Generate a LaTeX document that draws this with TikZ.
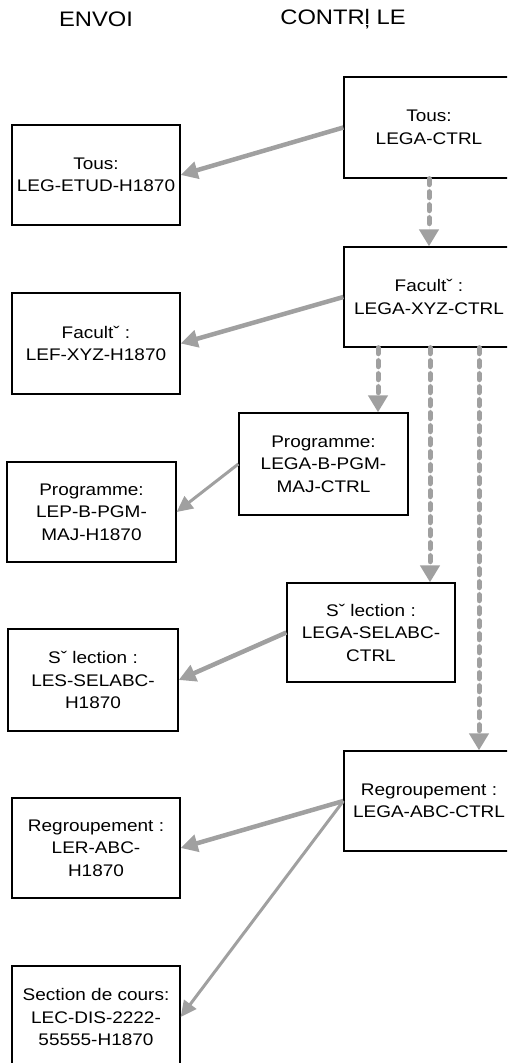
\documentclass[tikz,border=0pt]{standalone}
\usepackage{fontspec}
\setmainfont{Liberation Sans}[FakeStretch=1.13]
\usetikzlibrary{arrows.meta}
\definecolor{arrowgray}{RGB}{160,160,160}
\tikzset{
  box/.style={draw=black, line width=1.3pt, rectangle, inner sep=0pt, align=center,
    minimum width=168pt, minimum height=100pt,
    font=\fontsize{16.8}{22.5}\selectfont},
  header/.style={inner sep=0pt, font=\fontsize{21}{24}\selectfont},
  sendthick/.style={draw=arrowgray, line width=4.5pt,
    -{Triangle[length=17pt,width=17pt]}, fill=arrowgray},
  sendthin/.style={draw=arrowgray, line width=3pt,
    -{Triangle[length=16pt,width=15pt]}, fill=arrowgray},
  ctrlflow/.style={draw=arrowgray, line width=5pt, line cap=round,
    dash pattern=on 6pt off 7pt,
    -{Triangle[length=17pt,width=19pt]}, fill=arrowgray}
}
\begin{document}
\begin{tikzpicture}[x=1pt,y=-1pt]
\path[use as bounding box] (0,0) rectangle (507,1063);
\clip (0,0) rectangle (507,1063);

\node[header] (hEnvoi) at (96,19) {ENVOI};
\node[header] (hCtrl) at (343,19) {CONTRļ LE};

\node[box, minimum width=170pt, minimum height=101pt] (ctrlTous) at (429,127.5) {Tous:\\LEGA-CTRL};
\node[box, minimum height=100pt] (envTous) at (96,175) {Tous:\\LEG-ETUD-H1870};

\node[box, minimum width=170pt] (ctrlFac) at (429,297) {Facultˇ :\\LEGA-XYZ-CTRL};
\node[box, minimum height=101pt] (envFac) at (96,343.5) {Facultˇ :\\LEF-XYZ-H1870};

\node[box, minimum width=169pt, minimum height=102pt] (ctrlPgm) at (323.5,464) {Programme:\\LEGA-B-PGM-\\MAJ-CTRL};
\node[box, minimum width=169pt] (envPgm) at (91.5,512) {Programme:\\LEP-B-PGM-\\MAJ-H1870};

\node[box, minimum height=99pt] (ctrlSel) at (371,632.5) {Sˇ lection :\\LEGA-SELABC-\\CTRL};
\node[box, minimum width=170pt, minimum height=102pt] (envSel) at (93,680) {Sˇ lection :\\LES-SELABC-\\H1870};

\node[box, minimum width=170pt] (ctrlReg) at (429,801) {Regroupement :\\LEGA-ABC-CTRL};
\node[box] (envReg) at (96,848) {Regroupement :\\LER-ABC-\\H1870};

\node[box, minimum height=102pt] (envSec) at (96,1017) {Section de cours:\\LEC-DIS-2222-\\55555-H1870};

% send arrows
\draw[sendthick] (ctrlTous.west) -- (envTous.east);
\draw[sendthick] (ctrlFac.west) -- (envFac.east);
\draw[sendthin] (ctrlPgm.west) -- (envPgm.east);
\draw[sendthick] (ctrlSel.west) -- (envSel.east);
\draw[sendthick] (ctrlReg.west) -- (envReg.east);
\draw[sendthin] (ctrlReg.west) -- (envSec.east);

% control flow
\coordinate (d2) at (378,0);
\coordinate (d3) at (430,0);
\coordinate (d4) at (479,0);
\draw[ctrlflow] (ctrlTous.south) -- (ctrlFac.north);
\draw[ctrlflow] (ctrlFac.south -| d2) -- (ctrlPgm.north -| d2);
\draw[ctrlflow] (ctrlFac.south -| d3) -- (ctrlSel.north -| d3);
\draw[ctrlflow] (ctrlFac.south -| d4) -- (ctrlReg.north -| d4);
\end{tikzpicture}
\end{document}
